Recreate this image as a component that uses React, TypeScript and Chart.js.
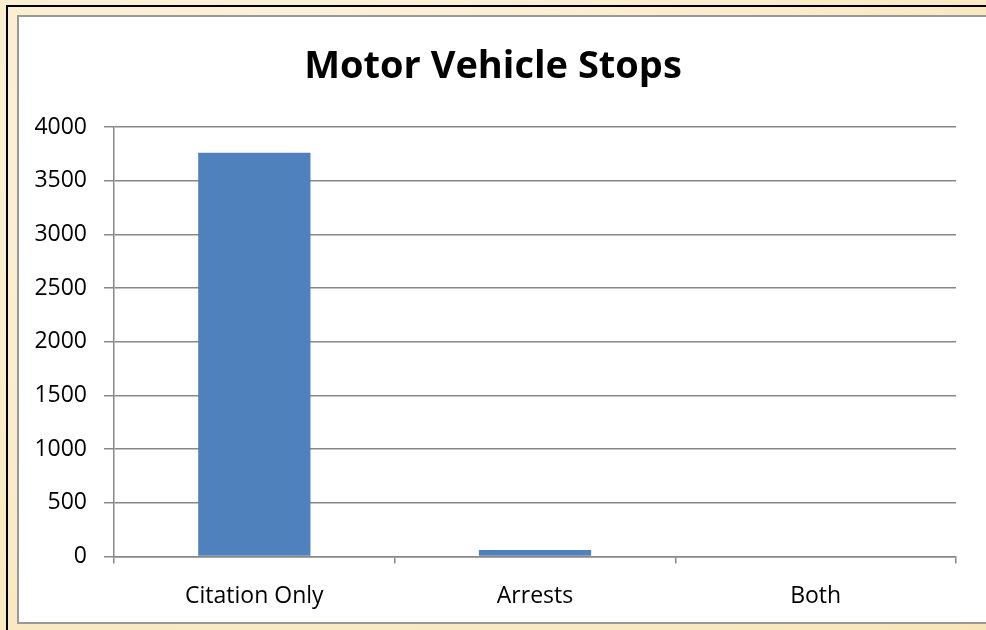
import React, { useEffect, useRef } from "react";
import { Chart, registerables } from "chart.js";

Chart.register(...registerables);

const categories: string[] = ["Citation Only", "Arrests", "Both"];
const stopCounts: number[] = [3760, 60, 0];
const yMin = 0;
const yMax = 4000;
const yStep = 500;
const chartTitle = "Motor Vehicle Stops";

const GRID = "#888888";
const FONT = "'Open Sans', 'Noto Sans', sans-serif";

export default function App() {
  const canvasRef = useRef<HTMLCanvasElement | null>(null);

  useEffect(() => {
    document.body.style.margin = "0";
    const canvas = canvasRef.current;
    if (!canvas) return;
    const chart = new Chart(canvas, {
      type: "bar",
      data: {
        labels: categories,
        datasets: [
          {
            data: stopCounts,
            backgroundColor: "#4F81BD",
            borderWidth: 0,
            categoryPercentage: 1,
            barPercentage: 0.4,
          },
        ],
      },
      options: {
        responsive: false,
        animation: false,
        devicePixelRatio: 1,
        layout: { padding: { left: 30, right: 30, top: 0, bottom: 1 } },
        plugins: {
          legend: { display: false },
          tooltip: { enabled: false },
          title: {
            display: true,
            text: chartTitle,
            color: "#000",
            font: { family: FONT, weight: "bold", size: 38 },
            padding: { top: 44, bottom: 37.4 },
          },
        },
        scales: {
          x: {
            offset: true,
            grid: {
              offset: true,
              drawOnChartArea: false,
              drawTicks: true,
              tickLength: 7,
              color: GRID,
              lineWidth: 1.5,
            },
            border: { display: true, color: GRID, width: 1.5 },
            ticks: {
              color: "#000",
              font: { family: FONT, size: 23 },
              padding: 19,
              maxRotation: 0,
            },
          },
          y: {
            min: yMin,
            max: yMax,
            afterFit: (scale: any) => {
              scale.width = 84;
            },
            grid: {
              color: GRID,
              lineWidth: 1.5,
              drawTicks: true,
              tickLength: 10,
            },
            border: { display: true, color: GRID, width: 1.5 },
            ticks: {
              stepSize: yStep,
              color: "#000",
              font: { family: FONT, size: 23 },
              padding: 17,
              callback: (value: any) => String(value),
            },
          },
        },
      },
    });
    return () => chart.destroy();
  }, []);

  return (
    <div
      style={{
        position: "absolute",
        left: 0,
        top: 0,
        width: 986,
        height: 630,
        overflow: "hidden",
        background:
          "radial-gradient(ellipse at 30% 20%, #fcf3dd 0%, #faecc9 55%, #f8e4b8 100%)",
      }}
    >
      <div
        style={{
          position: "absolute",
          left: 6,
          top: 5,
          width: 990,
          height: 640,
          borderLeft: "2px solid #000",
          borderTop: "2px solid #000",
        }}
      />
      <div
        style={{
          position: "absolute",
          left: 17,
          top: 15,
          width: 967,
          height: 605,
          background: "#fff",
          border: "2px solid #999",
        }}
      />
      <canvas
        ref={canvasRef}
        width={986}
        height={630}
        style={{ position: "absolute", left: 0, top: 0, width: 986, height: 630 }}
      />
    </div>
  );
}
